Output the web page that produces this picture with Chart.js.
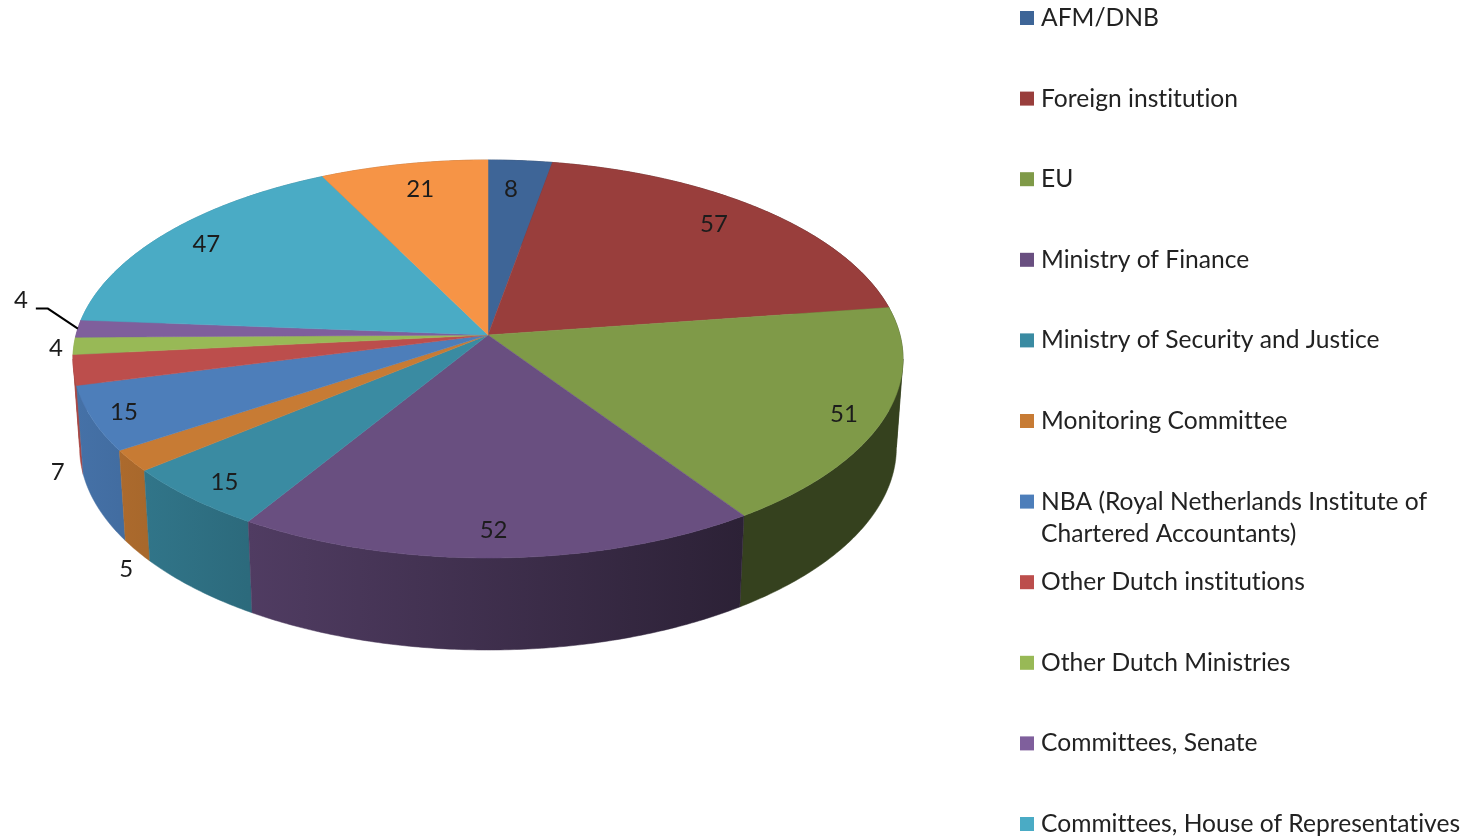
<!DOCTYPE html>
<html>
<head>
<meta charset="utf-8">
<title>Pie</title>
<style>
  html, body { margin: 0; padding: 0; background: #fff; overflow: hidden; }
  canvas { display: block; }
</style>
<script src="https://cdn.jsdelivr.net/npm/chart.js@4"></script>
</head>
<body>
<canvas id="pie" width="1474" height="838"></canvas>
<script>
// the 12th legend row falls below the bottom of the picture, its name is not readable
const categories = ['AFM/DNB', 'Foreign institution', 'EU', 'Ministry of Finance', 'Ministry of Security and Justice',
    'Monitoring Committee', 'NBA (Royal Netherlands Institute of\nChartered Accountants)', 'Other Dutch institutions',
    'Other Dutch Ministries', 'Committees, Senate', 'Committees, House of Representatives', ''];
const counts = [8, 57, 51, 52, 15, 5, 15, 7, 4, 4, 47, 21];
const sliceColors = ['#3E6597', '#993E3C', '#7F9A48', '#694F80', '#3A8BA2', '#C77B34',
    '#4D7EBA', '#BC4E4C', '#98B956', '#7F5F9C', '#4AABC5', '#F69446'];

// perspective of the tilted pie
const view = { cx: 488, cy: 335, a: 412, b: 196.1, p: -0.1206, depth: 88 };
const FONT = 'Lato, "Open Sans", sans-serif';

function project(theta, r) {
    const u = r * Math.sin(theta), v = -r * Math.cos(theta);
    const w = 1 + view.p * v;
    return { x: view.cx + view.a * u / w, y: view.cy + view.b * v / w };
}

function lowerRim(pt) {
    return {
        x: view.cx + (pt.x - view.cx) * 0.984,
        y: pt.y + view.depth + 0.018 * (pt.y - view.cy)
    };
}

function shade(hex, x) {
    const f = x > 742 ? 0.42 : 0.9 - (x - 72) * 0.52 / 668;
    const n = parseInt(hex.slice(1), 16);
    return `rgb(${Math.round((n >> 16) * f)},${Math.round(((n >> 8) & 255) * f)},${Math.round((n & 255) * f)})`;
}

function rimPoints(start, end) {
    const pts = [];
    const steps = Math.max(4, Math.ceil((end - start) / 0.01));
    for (let i = 0; i <= steps; i++) pts.push(project(start + (end - start) * i / steps, 1));
    return pts;
}

// the wall turns out of sight where the rim is widest, a slice crossing that angle needs two pieces
const widest = Math.acos(view.p);
const turnAngles = [widest, 2 * Math.PI - widest];

function wallPieces(start, end) {
    const cuts = [start, ...turnAngles.filter(t => t > start && t < end), end];
    return cuts.slice(1).map((c, k) => [cuts[k], c]);
}

// where each value sits: radius on the top face, then a nudge in pixels
const labelSpots = [
    { r: 0.85, dx: -5, dy: 5 }, { r: 0.85, dx: -9, dy: -3 }, { r: 0.85, dx: 22, dy: 9 },
    { r: 0.85, dx: -3, dy: 10 }, { r: 0.85, dx: -15, dy: 11 }, { r: 1, dx: -5, dy: 109 },
    { r: 0.85, dx: -30, dy: 7 }, { r: 1, dx: -16, dy: 102 }, { r: 1, dx: -18, dy: 2 },
    { r: 1, dx: -57, dy: -28 }, { r: 0.85, dx: -7, dy: -3 }, { r: 0.85, dx: 5, dy: 2 }
];

const tiltedPie = {
    id: 'tiltedPie',
    beforeDatasetsDraw(chart) {
        const ctx = chart.ctx;
        const arcs = chart.getDatasetMeta(0).data.map((el, i) => ({
            i,
            start: el.startAngle + Math.PI / 2,
            end: el.endAngle + Math.PI / 2
        }));

        // side wall, back slices first
        const backToFront = arcs.slice().sort((m, n) =>
            -Math.cos((m.start + m.end) / 2) - -Math.cos((n.start + n.end) / 2));
        backToFront.forEach(arc => {
            wallPieces(arc.start, arc.end).forEach(([from, to]) => {
                const top = rimPoints(from, to);
                const bottom = top.map(lowerRim).reverse();
                const xs = top.map(pt => pt.x);
                const x0 = Math.min(...xs), x1 = Math.max(...xs);
                const grad = ctx.createLinearGradient(x0, 0, x1 + 0.01, 0);
                grad.addColorStop(0, shade(sliceColors[arc.i], x0));
                grad.addColorStop(1, shade(sliceColors[arc.i], x1));
                ctx.fillStyle = grad;
                ctx.strokeStyle = grad;
                ctx.lineWidth = 0.5;
                ctx.beginPath();
                top.concat(bottom).forEach((pt, k) => k ? ctx.lineTo(pt.x, pt.y) : ctx.moveTo(pt.x, pt.y));
                ctx.closePath();
                ctx.fill();
                ctx.stroke();
            });
        });

        // top face
        arcs.forEach(arc => {
            ctx.fillStyle = sliceColors[arc.i];
            ctx.strokeStyle = sliceColors[arc.i];
            ctx.lineWidth = 0.5;
            ctx.beginPath();
            ctx.moveTo(view.cx, view.cy);
            rimPoints(arc.start, arc.end).forEach(pt => ctx.lineTo(pt.x, pt.y));
            ctx.closePath();
            ctx.fill();
            ctx.stroke();
        });

        // value labels
        ctx.fillStyle = '#1c1c1c';
        ctx.font = '24px ' + FONT;
        ctx.textAlign = 'center';
        ctx.textBaseline = 'middle';
        arcs.forEach(arc => {
            const spot = labelSpots[arc.i];
            const pt = project((arc.start + arc.end) / 2, spot.r);
            ctx.fillText(String(counts[arc.i]), pt.x + spot.dx, pt.y + spot.dy);
        });

        // leader line of the Senate value
        const senate = arcs[9];
        const rim = project((senate.start + senate.end) / 2, 1);
        ctx.strokeStyle = '#000';
        ctx.lineWidth = 2;
        ctx.beginPath();
        ctx.moveTo(rim.x, rim.y);
        ctx.lineTo(rim.x - 30, rim.y - 20);
        ctx.lineTo(rim.x - 42, rim.y - 20);
        ctx.stroke();

        return false;
    },
    afterDraw(chart) {
        // legend: even row pitch even when a name wraps, so it is laid out here
        const ctx = chart.ctx;
        ctx.font = '24.6px ' + FONT;
        ctx.letterSpacing = '0.01px';   // keeps Lato from joining "ti" into a ligature
        ctx.textAlign = 'left';
        ctx.textBaseline = 'middle';
        chart.data.labels.forEach((name, i) => {
            const y = 18 + 80.6 * i;
            if (y > chart.height) return;
            ctx.fillStyle = sliceColors[i];
            ctx.fillRect(1020, y - 7, 14, 14);
            ctx.fillStyle = '#222';
            name.split('\n').forEach((line, k) => ctx.fillText(line, 1041, y + 32 * k));
        });
    }
};

new Chart(document.getElementById('pie'), {
    type: 'pie',
    data: {
        labels: categories,
        datasets: [{ data: counts, backgroundColor: sliceColors, borderWidth: 0 }]
    },
    options: {
        responsive: false,
        animation: false,
        plugins: {
            legend: { display: false },
            tooltip: { enabled: false }
        }
    },
    plugins: [tiltedPie]
});
</script>
</body>
</html>
